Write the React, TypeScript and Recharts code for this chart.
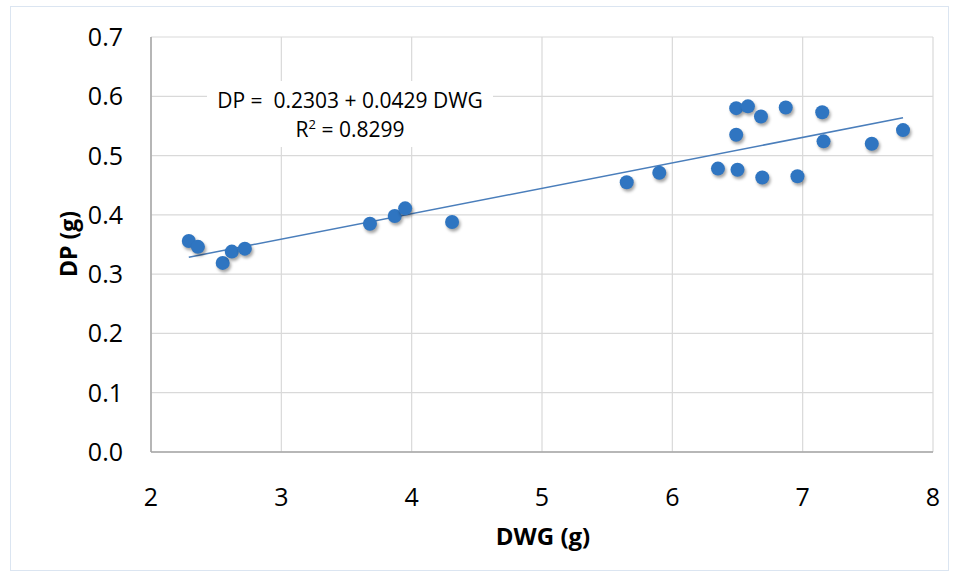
import {
  ScatterChart,
  Scatter,
  XAxis,
  YAxis,
  CartesianGrid,
  ReferenceLine,
} from 'recharts';

// DWG (g) and DP (g), one pair per point
const dwgValues = [
  2.29, 2.36, 2.55, 2.62, 2.72, 3.68, 3.87, 3.95, 4.31, 5.65, 5.9, 6.35,
  6.5, 6.69, 6.96, 6.49, 6.49, 6.58, 6.68, 6.87, 7.15, 7.16, 7.53, 7.77,
];
const dpValues = [
  0.356, 0.346, 0.319, 0.338, 0.343, 0.385, 0.398, 0.411, 0.388, 0.455,
  0.471, 0.478, 0.476, 0.463, 0.465, 0.535, 0.58, 0.583, 0.566, 0.581,
  0.573, 0.524, 0.52, 0.543,
];

const xTicks = [2, 3, 4, 5, 6, 7, 8];
const yTicks = [0, 0.1, 0.2, 0.3, 0.4, 0.5, 0.6, 0.7];

const intercept = 0.2303;
const slope = 0.0429;
const rSquared = 0.8299;

const FONT = '"Open Sans", sans-serif';
const POINT = '#2f75c1';

const points = dwgValues.map((x, i) => ({ x, y: dpValues[i] }));
const xMin = Math.min(...dwgValues);
const xMax = Math.max(...dwgValues);

function Dot(props: any) {
  const { cx, cy } = props;
  return (
    <g>
      <circle
        cx={cx + 1.5}
        cy={cy + 2.5}
        r={7}
        fill="rgba(0,0,0,0.35)"
        style={{ filter: 'blur(1.5px)' }}
      />
      <circle cx={cx} cy={cy} r={7} fill={POINT} />
    </g>
  );
}

function XTick(props: any) {
  const { x, y, payload } = props;
  return (
    <text
      x={x}
      y={y + 46}
      textAnchor="middle"
      fontFamily={FONT}
      fontSize={25}
      fill="#000"
    >
      {payload.value}
    </text>
  );
}

function YTick(props: any) {
  const { x, y, payload } = props;
  return (
    <text
      x={x - 20}
      y={y + 9}
      textAnchor="end"
      fontFamily={FONT}
      fontSize={25}
      fill="#000"
    >
      {Number(payload.value).toFixed(1)}
    </text>
  );
}

export default function App() {
  return (
    <div
      style={{
        position: 'absolute',
        left: 0,
        top: 0,
        width: 958,
        height: 577,
        background: '#fff',
      }}
    >
      <div
        style={{
          position: 'absolute',
          left: 10,
          top: 6,
          width: 937,
          height: 563,
          border: '1px solid #dbe5f1',
        }}
      />
      <ScatterChart
        width={958}
        height={577}
        margin={{ top: 37, right: 25, bottom: 0, left: 0 }}
      >
        <CartesianGrid stroke="#d9d9d9" strokeWidth={1.2} />
        <XAxis
          type="number"
          dataKey="x"
          domain={[2, 8]}
          ticks={xTicks}
          height={125}
          stroke="#a6a6a6"
          strokeWidth={1.5}
          tickLine={false}
          tick={<XTick />}
        />
        <YAxis
          type="number"
          dataKey="y"
          domain={[0, 0.7]}
          ticks={yTicks}
          width={151}
          stroke="#a6a6a6"
          strokeWidth={1.5}
          tickLine={false}
          tick={<YTick />}
        />
        <ReferenceLine
          segment={[
            { x: xMin, y: intercept + slope * xMin },
            { x: xMax, y: intercept + slope * xMax },
          ]}
          stroke="#4a7ebb"
          strokeWidth={1.5}
          ifOverflow="visible"
        />
        <Scatter
          data={points}
          shape={<Dot />}
          isAnimationActive={false}
        />
      </ScatterChart>
      <div
        style={{
          position: 'absolute',
          left: 207,
          top: 81,
          width: 286,
          height: 66,
          background: '#fff',
          fontFamily: FONT,
          fontSize: 21,
          lineHeight: '29px',
          textAlign: 'center',
          color: '#000',
          paddingTop: 5,
          boxSizing: 'border-box',
        }}
      >
        <div style={{ whiteSpace: 'pre' }}>
          {`DP =  ${intercept} + ${slope} DWG`}
        </div>
        <div>
          R<sup style={{ fontSize: 13, verticalAlign: '0.6em', lineHeight: 0 }}>2</sup> = {rSquared}
        </div>
      </div>
      <div
        style={{
          position: 'absolute',
          left: 543,
          top: 535,
          transform: 'translate(-50%, -50%)',
          fontFamily: FONT,
          fontWeight: 700,
          fontSize: 24,
          whiteSpace: 'nowrap',
          color: '#000',
        }}
      >
        DWG (g)
      </div>
      <div
        style={{
          position: 'absolute',
          left: 68,
          top: 244,
          transform: 'translate(-50%, -50%) rotate(-90deg)',
          fontFamily: FONT,
          fontWeight: 700,
          fontSize: 23,
          whiteSpace: 'nowrap',
          color: '#000',
        }}
      >
        DP (g)
      </div>
    </div>
  );
}
